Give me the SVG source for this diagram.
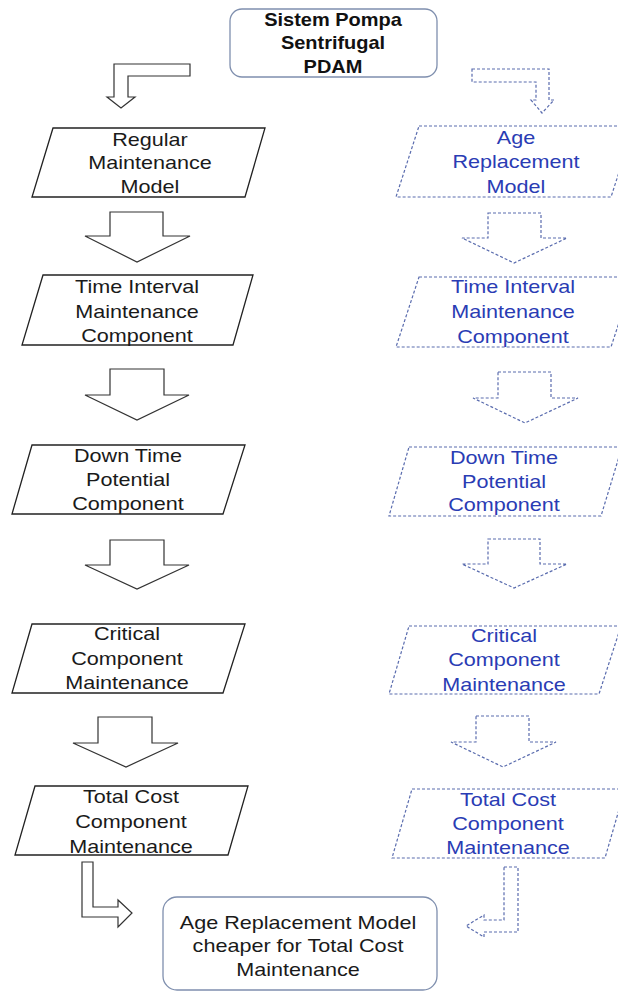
<svg xmlns="http://www.w3.org/2000/svg" width="618" height="992" viewBox="0 0 618 992">
<style>
  .bg{fill:#ffffff}
  .rbox{fill:#ffffff;stroke:#7f8fae;stroke-width:1.3}
  .lbox{fill:#ffffff;stroke:#222;stroke-width:1.3}
  .dbox{fill:#ffffff;stroke:#5a6cae;stroke-width:1.2;stroke-dasharray:3 2}
  .larr{fill:#ffffff;stroke:#333;stroke-width:1.2;stroke-linejoin:miter}
  .darr{fill:#ffffff;stroke:#5a6cae;stroke-width:1.2;stroke-dasharray:3 2}
  .t{font-family:"Liberation Sans",Arial,sans-serif;font-size:18px;text-anchor:middle;fill:#1a1a1a}
  .tb{font-family:"Liberation Sans",Arial,sans-serif;font-size:18px;font-weight:bold;text-anchor:middle;fill:#111}
  .tbl{font-family:"Liberation Sans",Arial,sans-serif;font-size:18px;text-anchor:middle;fill:#2a3cb4}
</style>
<rect class="bg" x="0" y="0" width="618" height="992"/>

<g id="connectors">
  <polygon class="larr" points="114,64 190,64 190,76 128,76 128,97 135,97 121,108 107,97 114,97"/>
  <polygon class="larr" points="110,212 163,212 163,236 190,236 137,262 85,236 110,236"/>
  <polygon class="larr" points="110,369 164,369 164,395 189,395 137,420 85,395 110,395"/>
  <polygon class="larr" points="110,540 164,540 164,565 189,565 137,589 85,565 110,565"/>
  <polygon class="larr" points="98,717 152,717 152,743 178,743 126,767 73,743 98,743"/>
  <polygon class="larr" points="82,862 93,862 93,907 118,907 118,900 132,913 118,927 118,917 82,917"/>

  <polygon class="darr" points="472,69 549,69 549,100 554,100 542,113 531,100 536,100 536,82 472,82"/>
  <polygon class="darr" points="488,213 541,213 541,238 567,238 514,263 462,238 488,238"/>
  <polygon class="darr" points="498,372 551,372 551,398 578,398 525,423 473,398 498,398"/>
  <polygon class="darr" points="488,539 540,539 540,564 567,564 514,588 462,564 488,564"/>
  <polygon class="darr" points="476,716 529,716 529,742 556,742 503,767 451,742 476,742"/>
  <polygon class="darr" points="504,867 518,867 518,932 484,932 484,937 466,926 484,915 484,920 504,920"/>
</g>

<g id="start">
  <rect class="rbox" x="230" y="9" width="207" height="68" rx="12"/>
  <text class="tb" transform="translate(333,0) scale(1.11,1)"><tspan x="0" y="26">Sistem Pompa</tspan><tspan x="0" y="49">Sentrifugal</tspan><tspan x="0" y="73">PDAM</tspan></text>
</g>

<g id="l1">
  <polygon class="lbox" points="53,128 265,128 245,197 32,197"/>
  <text class="t" transform="translate(150,0) scale(1.2,1)"><tspan x="0" y="146">Regular</tspan><tspan x="0" y="169">Maintenance</tspan><tspan x="0" y="193">Model</tspan></text>
</g>
<g id="l2">
  <polygon class="lbox" points="43,275 253,275 233,345 22,345"/>
  <text class="t" transform="translate(137,0) scale(1.2,1)"><tspan x="0" y="293">Time Interval</tspan><tspan x="0" y="318">Maintenance</tspan><tspan x="0" y="342">Component</tspan></text>
</g>
<g id="l3">
  <polygon class="lbox" points="32,445 245,445 223,514 12,514"/>
  <text class="t" transform="translate(128,0) scale(1.2,1)"><tspan x="0" y="462">Down Time</tspan><tspan x="0" y="486">Potential</tspan><tspan x="0" y="510">Component</tspan></text>
</g>
<g id="l4">
  <polygon class="lbox" points="32,624 245,624 223,693 12,693"/>
  <text class="t" transform="translate(127,0) scale(1.2,1)"><tspan x="0" y="640">Critical</tspan><tspan x="0" y="665">Component</tspan><tspan x="0" y="689">Maintenance</tspan></text>
</g>
<g id="l5">
  <polygon class="lbox" points="35,786 248,786 228,855 15,855"/>
  <text class="t" transform="translate(131,0) scale(1.2,1)"><tspan x="0" y="803">Total Cost</tspan><tspan x="0" y="828">Component</tspan><tspan x="0" y="853">Maintenance</tspan></text>
</g>

<g id="r1">
  <polygon class="dbox" points="419,126 634,126 611,197 396,197"/>
  <text class="tbl" transform="translate(516,0) scale(1.2,1)"><tspan x="0" y="144">Age</tspan><tspan x="0" y="168">Replacement</tspan><tspan x="0" y="193">Model</tspan></text>
</g>
<g id="r2">
  <polygon class="dbox" points="419,277 634,277 611,347 396,347"/>
  <text class="tbl" transform="translate(513,0) scale(1.2,1)"><tspan x="0" y="293">Time Interval</tspan><tspan x="0" y="318">Maintenance</tspan><tspan x="0" y="343">Component</tspan></text>
</g>
<g id="r3">
  <polygon class="dbox" points="409,447 622,447 601,516 389,516"/>
  <text class="tbl" transform="translate(504,0) scale(1.2,1)"><tspan x="0" y="464">Down Time</tspan><tspan x="0" y="488">Potential</tspan><tspan x="0" y="511">Component</tspan></text>
</g>
<g id="r4">
  <polygon class="dbox" points="409,626 621,626 599,694 389,694"/>
  <text class="tbl" transform="translate(504,0) scale(1.2,1)"><tspan x="0" y="642">Critical</tspan><tspan x="0" y="666">Component</tspan><tspan x="0" y="691">Maintenance</tspan></text>
</g>
<g id="r5">
  <polygon class="dbox" points="412,789 625,789 605,858 392,858"/>
  <text class="tbl" transform="translate(508,0) scale(1.2,1)"><tspan x="0" y="806">Total Cost</tspan><tspan x="0" y="830">Component</tspan><tspan x="0" y="854">Maintenance</tspan></text>
</g>

<g id="result">
  <rect class="rbox" x="163" y="897" width="274" height="93" rx="14"/>
  <text class="t" transform="translate(298,0) scale(1.2,1)"><tspan x="0" y="929">Age Replacement Model</tspan><tspan x="0" y="952">cheaper for Total Cost</tspan><tspan x="0" y="976">Maintenance</tspan></text>
</g>
</svg>
